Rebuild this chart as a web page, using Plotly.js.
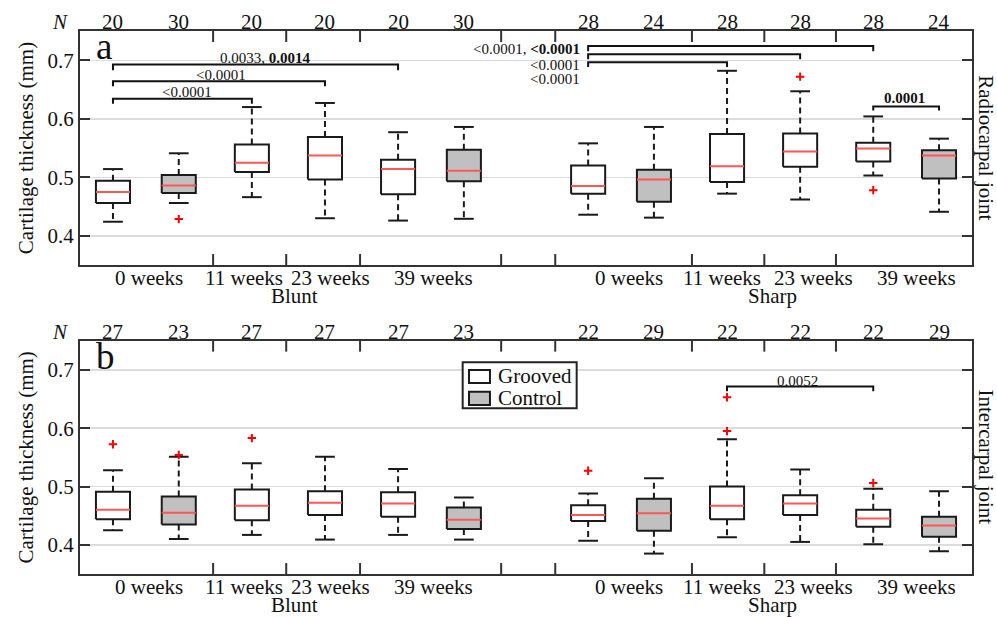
<!DOCTYPE html>
<html>
<head>
<meta charset="utf-8">
<script src="https://cdn.plot.ly/plotly-3.0.1.min.js"></script>
<style>html,body{margin:0;padding:0;background:#fff;}#chart{width:997px;height:617px;}</style>
</head>
<body>
<div id="chart"></div>
<script>
// ---------- DATA ----------
const positions = [1, 1.9, 2.9, 3.9, 4.9, 5.8, 7.5, 8.4, 9.4, 10.4, 11.4, 12.3];
const isControl = [0, 1, 0, 0, 0, 1, 0, 1, 0, 0, 0, 1];
const nA = [20, 30, 20, 20, 20, 30, 28, 24, 28, 28, 28, 24];
const nB = [27, 23, 27, 27, 27, 23, 22, 29, 22, 22, 22, 29];

const weekLabels = ['0 weeks', '11 weeks', '23 weeks', '39 weeks', '0 weeks', '11 weeks', '23 weeks', '39 weeks'];
const weekLabelPos = [1.49, 2.79, 3.98, 5.39, 8.06, 9.33, 10.58, 11.99];
const groupLabels = ['Blunt', 'Sharp'];
const groupLabelPos = [3.48, 10.02];
const boundaryTicks = [2.37, 3.37, 4.38, 6.31, 7.05, 8.92, 9.91, 10.89];
const legendNames = ['Grooved', 'Control'];

// Panel a: radiocarpal joint
const loA  = [0.424, 0.456, 0.466, 0.430, 0.426, 0.429, 0.436, 0.431, 0.472, 0.462, 0.503, 0.441];
const q1A  = [0.456, 0.473, 0.509, 0.496, 0.471, 0.493, 0.472, 0.458, 0.492, 0.518, 0.527, 0.498];
const medA = [0.475, 0.486, 0.525, 0.537, 0.514, 0.511, 0.485, 0.496, 0.519, 0.544, 0.549, 0.537];
const q3A  = [0.494, 0.504, 0.556, 0.569, 0.530, 0.547, 0.520, 0.513, 0.574, 0.575, 0.559, 0.546];
const hiA  = [0.514, 0.541, 0.620, 0.627, 0.577, 0.586, 0.558, 0.586, 0.682, 0.647, 0.604, 0.566];
const outAIdx = [1, 9, 10];
const outAVal = [0.4285, 0.672, 0.478];

// Panel b: intercarpal joint
const loB  = [0.425, 0.410, 0.417, 0.409, 0.417, 0.409, 0.407, 0.385, 0.413, 0.405, 0.401, 0.389];
const q1B  = [0.444, 0.435, 0.442, 0.451, 0.448, 0.427, 0.441, 0.424, 0.444, 0.451, 0.431, 0.414];
const medB = [0.460, 0.455, 0.467, 0.472, 0.471, 0.443, 0.451, 0.454, 0.467, 0.471, 0.445, 0.433];
const q3B  = [0.491, 0.483, 0.495, 0.492, 0.490, 0.464, 0.468, 0.479, 0.500, 0.485, 0.460, 0.448];
const hiB  = [0.528, 0.551, 0.540, 0.551, 0.530, 0.481, 0.488, 0.514, 0.581, 0.529, 0.496, 0.492];
const outBIdx = [0, 1, 2, 6, 8, 8, 10];
const outBVal = [0.5725, 0.554, 0.583, 0.527, 0.653, 0.595, 0.506];

// Significance brackets
const sigA = [
  {from: 0, to: 4, y: 0.6926, drop: 0.0098, text: '0.0033, <b>0.0014</b>', tx: 3.09, ty: 0.7046, anchor: 'center'},
  {from: 0, to: 3, y: 0.664, drop: 0.0086, text: '&lt;0.0001', tx: 2.48, ty: 0.6755, anchor: 'center'},
  {from: 0, to: 2, y: 0.6343, drop: 0.0086, text: '&lt;0.0001', tx: 2.01, ty: 0.6456, anchor: 'center'},
  {from: 6, to: 10, y: 0.7245, drop: 0.009, text: '&lt;0.0001, <b>&lt;0.0001</b>', tx: 7.41, ty: 0.7189, anchor: 'right'},
  {from: 6, to: 9, y: 0.7103, drop: 0.0086, text: '&lt;0.0001', tx: 7.41, ty: 0.6926, anchor: 'right'},
  {from: 6, to: 8, y: 0.6966, drop: 0.008, text: '&lt;0.0001', tx: 7.41, ty: 0.6686, anchor: 'right'},
  {from: 10, to: 11, y: 0.6211, drop: 0.0069, text: '<b>0.0001</b>', tx: 11.83, ty: 0.6353, anchor: 'center'}
];
const sigB = [
  {from: 8, to: 10, y: 0.6715, drop: 0.008, text: '0.0052', tx: 10.36, ty: 0.6817, anchor: 'center'}
];

// ---------- STYLE ----------
const FONT = 'Liberation Serif';
const BOXW = 0.466, CAPW = 0.27;
const EDGE = '#1a1a1a', GRAY = '#c0c0c0', RED = '#ff5555', TXT = '#111111';

const traces = [];

function addPanel(lo, q1, med, q3, hi, outIdx, outVal, xa, ya) {
  const wx = [], wy = [], cx = [], cy = [], mx = [], my = [];
  positions.forEach((p, i) => {
    wx.push(p, p, null, p, p, null);
    wy.push(q3[i], hi[i], null, q1[i], lo[i], null);
    cx.push(p - CAPW / 2, p + CAPW / 2, null, p - CAPW / 2, p + CAPW / 2, null);
    cy.push(hi[i], hi[i], null, lo[i], lo[i], null);
    mx.push(p - BOXW / 2, p + BOXW / 2, null);
    my.push(med[i], med[i], null);
  });
  traces.push({x: wx, y: wy, xaxis: xa, yaxis: ya, mode: 'lines', type: 'scatter',
    line: {color: EDGE, width: 2, dash: '6px,4px'}, showlegend: false, hoverinfo: 'skip'});
  traces.push({x: cx, y: cy, xaxis: xa, yaxis: ya, mode: 'lines', type: 'scatter',
    line: {color: EDGE, width: 2}, showlegend: false, hoverinfo: 'skip'});
  positions.forEach((p, i) => {
    const ctrl = isControl[i];
    traces.push({
      x: [p - BOXW / 2, p + BOXW / 2, p + BOXW / 2, p - BOXW / 2, p - BOXW / 2],
      y: [q1[i], q1[i], q3[i], q3[i], q1[i]],
      xaxis: xa, yaxis: ya, type: 'scatter', mode: 'lines', fill: 'toself',
      fillcolor: ctrl ? GRAY : '#ffffff', line: {color: EDGE, width: 2},
      name: legendNames[ctrl], showlegend: false, hoverinfo: 'skip'
    });
  });
  traces.push({x: mx, y: my, xaxis: xa, yaxis: ya, mode: 'lines', type: 'scatter',
    line: {color: RED, width: 2}, showlegend: false, hoverinfo: 'skip'});
  traces.push({x: outIdx.map(i => positions[i]), y: outVal, xaxis: xa, yaxis: ya,
    mode: 'markers', type: 'scatter',
    marker: {symbol: 'cross-thin', size: 6, color: 'red', line: {color: 'red', width: 2}},
    showlegend: false, hoverinfo: 'skip'});
}

addPanel(loA, q1A, medA, q3A, hiA, outAIdx, outAVal, 'x', 'y');
addPanel(loB, q1B, medB, q3B, hiB, outBIdx, outBVal, 'x2', 'y2');

const shapes = [];
const annotations = [];
const f = (size, extra) => Object.assign({family: FONT, size: size, color: TXT}, extra || {});

function panelDecor(xa, ya, ns, sigs, letter, sideTitle) {
  const yd = ya + ' domain';
  boundaryTicks.forEach(t => {
    shapes.push({type: 'line', xref: xa, yref: yd, x0: t, x1: t, y0: 0, y1: 0.047, line: {color: '#333', width: 2}});
    shapes.push({type: 'line', xref: xa, yref: yd, x0: t, x1: t, y0: 1, y1: 0.953, line: {color: '#333', width: 2}});
  });
  sigs.forEach(s => {
    const x0 = positions[s.from], x1 = positions[s.to];
    shapes.push({type: 'path', xref: xa, yref: ya,
      path: `M ${x0} ${s.y - s.drop} L ${x0} ${s.y} L ${x1} ${s.y} L ${x1} ${s.y - s.drop}`,
      line: {color: '#111', width: 2}});
    annotations.push({xref: xa, yref: ya, x: s.tx, y: s.ty, text: s.text, showarrow: false,
      xanchor: s.anchor, yanchor: 'middle', font: f(15)});
  });
  ns.forEach((n, i) => {
    annotations.push({xref: xa, yref: yd, x: positions[i], y: 1, yshift: 9, text: String(n),
      showarrow: false, xanchor: 'center', yanchor: 'middle', font: f(21)});
  });
  annotations.push({xref: 'paper', yref: yd, x: -0.022, y: 1, yshift: 9, text: '<i>N</i>',
    showarrow: false, xanchor: 'center', yanchor: 'middle', font: f(21)});
  weekLabels.forEach((w, i) => {
    annotations.push({xref: xa, yref: yd, x: weekLabelPos[i], y: 0, yshift: -13, text: w,
      showarrow: false, xanchor: 'center', yanchor: 'middle', font: f(21)});
  });
  groupLabels.forEach((g, i) => {
    annotations.push({xref: xa, yref: yd, x: groupLabelPos[i], y: 0, yshift: -31, text: g,
      showarrow: false, xanchor: 'center', yanchor: 'middle', font: f(21)});
  });
  annotations.push({xref: 'paper', yref: yd, x: 0.016, y: 1, yshift: 7, text: letter,
    showarrow: false, xanchor: 'left', yanchor: 'top', font: f(37)});
  annotations.push({xref: 'paper', yref: yd, x: 1.0155, y: 0.5, text: sideTitle, textangle: 90,
    showarrow: false, xanchor: 'center', yanchor: 'middle', font: f(21)});
}
panelDecor('x', 'y', nA, sigA, 'a', 'Radiocarpal joint');
panelDecor('x2', 'y2', nB, sigB, 'b', 'Intercarpal joint');

// Legend (drawn in panel b)
shapes.push({type: 'rect', xref: 'paper', yref: 'paper', x0: 0.4290, x1: 0.5568, y0: 0.3052, y1: 0.3899,
  line: {color: '#222', width: 2}, fillcolor: '#ffffff', layer: 'above'});
shapes.push({type: 'rect', xref: 'paper', yref: 'paper', x0: 0.4361, x1: 0.4596, y0: 0.3517, y1: 0.3757,
  line: {color: EDGE, width: 2}, fillcolor: '#ffffff', layer: 'above'});
shapes.push({type: 'rect', xref: 'paper', yref: 'paper', x0: 0.4361, x1: 0.4596, y0: 0.3112, y1: 0.3357,
  line: {color: EDGE, width: 2}, fillcolor: GRAY, layer: 'above'});
annotations.push({xref: 'paper', yref: 'paper', x: 0.4665, y: 0.3646, text: legendNames[0], showarrow: false,
  xanchor: 'left', yanchor: 'middle', font: f(21)});
annotations.push({xref: 'paper', yref: 'paper', x: 0.4665, y: 0.3241, text: legendNames[1], showarrow: false,
  xanchor: 'left', yanchor: 'middle', font: f(21)});

function xAxis(anchor) {
  return {anchor: anchor, range: [0.549, 12.751], showticklabels: false,
    ticks: '', showline: true, mirror: true, linecolor: '#333', linewidth: 2,
    showgrid: false, zeroline: false, fixedrange: true};
}
function yAxis(anchor, domain) {
  return {anchor: anchor, domain: domain, range: [0.35, 0.75], tickvals: [0.4, 0.5, 0.6, 0.7],
    ticktext: ['0.4', '0.5', '0.6', '0.7'], ticks: 'inside', ticklen: 10, tickwidth: 2, tickcolor: '#333',
    showline: true, mirror: 'ticks', linecolor: '#333', linewidth: 2,
    showgrid: true, gridcolor: '#dcdcdc', gridwidth: 1.5, zeroline: false,
    tickfont: f(21),
    title: {text: 'Cartilage thickness (mm)', font: f(21), standoff: 8},
    fixedrange: true};
}

const layout = {
  width: 997, height: 617,
  margin: {l: 80, r: 25, t: 31, b: 43},
  paper_bgcolor: '#ffffff', plot_bgcolor: '#ffffff',
  font: f(21),
  xaxis: xAxis('y'),
  yaxis: yAxis('x', [0.569, 1]),
  xaxis2: xAxis('y2'),
  yaxis2: yAxis('x2', [0, 0.4297]),
  showlegend: false,
  shapes: shapes,
  annotations: annotations
};

Plotly.newPlot('chart', traces, layout, {displayModeBar: false, staticPlot: true});
</script>
</body>
</html>
